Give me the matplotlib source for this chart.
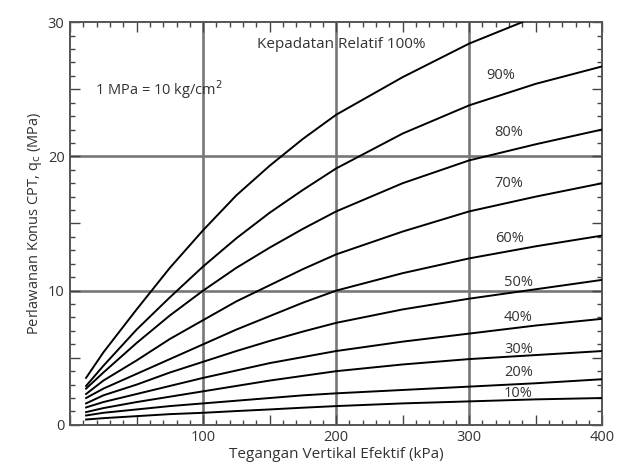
import matplotlib
matplotlib.use("Agg")
import matplotlib.pyplot as plt
from matplotlib.ticker import MultipleLocator, FuncFormatter

plt.rcParams['font.family'] = ['Open Sans', 'DejaVu Sans']

# effective vertical stress (kPa)
x_pts = [12, 25, 50, 75, 100, 125, 150, 175, 200, 250, 300, 350, 400]
x_100 = [12, 25, 50, 75, 100, 125, 150, 175, 200, 250, 300, 340]

# cone resistance qc (MPa) for each relative density
q_100 = [3.5, 5.4, 8.6, 11.7, 14.5, 17.1, 19.3, 21.3, 23.1, 25.9, 28.4, 30.0]
q_90 = [2.9, 4.4, 7.1, 9.5, 11.8, 13.9, 15.8, 17.5, 19.1, 21.7, 23.8, 25.4, 26.7]
q_80 = [2.7, 3.9, 6.1, 8.15, 10.0, 11.7, 13.2, 14.6, 15.9, 18.0, 19.7, 20.9, 22.0]
q_70 = [2.3, 3.3, 4.8, 6.4, 7.8, 9.2, 10.4, 11.6, 12.7, 14.4, 15.9, 17.0, 18.0]
q_60 = [2.0, 2.7, 3.8, 4.9, 6.0, 7.1, 8.1, 9.1, 10.0, 11.3, 12.4, 13.3, 14.1]
q_50 = [1.6, 2.2, 3.0, 3.9, 4.7, 5.5, 6.25, 6.95, 7.6, 8.6, 9.4, 10.1, 10.8]
q_40 = [1.3, 1.7, 2.3, 2.9, 3.5, 4.05, 4.6, 5.05, 5.5, 6.2, 6.8, 7.4, 7.9]
q_30 = [0.95, 1.25, 1.7, 2.1, 2.5, 2.9, 3.3, 3.65, 4.0, 4.5, 4.9, 5.2, 5.5]
q_20 = [0.7, 0.9, 1.15, 1.4, 1.6, 1.8, 2.0, 2.2, 2.35, 2.6, 2.85, 3.1, 3.4]
q_10 = [0.4, 0.5, 0.65, 0.8, 0.9, 1.03, 1.15, 1.28, 1.4, 1.6, 1.75, 1.9, 2.0]

lower_curves = [q_90, q_80, q_70, q_60, q_50, q_40, q_30, q_20, q_10]
labels = ['90%', '80%', '70%', '60%', '50%', '40%', '30%', '20%', '10%']
label_x = [324, 330, 330, 330, 337, 337, 337, 337, 337]
label_y = [26.0, 21.8, 18.0, 13.9, 10.6, 8.0, 5.6, 3.9, 2.35]

fig = plt.figure(figsize=(6.26, 4.70), dpi=100)
ax = fig.add_axes([0.112, 0.096, 0.85, 0.857])

# thick gray reference lines
for xv in [100, 200, 300]:
    ax.axvline(xv, color='#777777', lw=1.9, zorder=1)
for yv in [10, 20]:
    ax.axhline(yv, color='#777777', lw=1.9, zorder=1)

ax.plot(x_100, q_100, color='black', lw=1.4, zorder=3, solid_joinstyle='round')
for q in lower_curves:
    ax.plot(x_pts, q, color='black', lw=1.4, zorder=3, solid_joinstyle='round')

txt = '#333333'
ax.text(204, 28.3, 'Kepadatan Relatif 100%', ha='center', va='center', fontsize=11, color=txt)
for lab, lx, ly in zip(labels, label_x, label_y):
    ax.text(lx, ly, lab, ha='center', va='center', fontsize=10.5, color=txt)
ax.text(19, 25.0, r'1 MPa = 10 kg/cm$^2$', ha='left', va='center', fontsize=10.5, color=txt)

ax.set_xlim(0, 400)
ax.set_ylim(0, 30)

ax.xaxis.set_major_locator(MultipleLocator(50))
ax.xaxis.set_minor_locator(MultipleLocator(10))
ax.yaxis.set_major_locator(MultipleLocator(5))
ax.yaxis.set_minor_locator(MultipleLocator(1))
ax.xaxis.set_major_formatter(FuncFormatter(lambda v, p: f'{int(v)}' if v % 100 == 0 and v > 0 else ''))
ax.yaxis.set_major_formatter(FuncFormatter(lambda v, p: f'{int(v)}' if v % 10 == 0 else ''))

ax.tick_params(which='both', direction='in', top=True, right=True, color='#444444', width=1.0)
ax.tick_params(which='major', length=7, labelsize=10.5, labelcolor=txt, pad=4)
ax.tick_params(which='minor', length=3.5)

for s in ax.spines.values():
    s.set_color('#555555')
    s.set_linewidth(1.4)

ax.set_xlabel('Tegangan Vertikal Efektif (kPa)', fontsize=11, color=txt, labelpad=1)
ax.set_ylabel(r'Perlawanan Konus CPT, q$_\mathrm{c}$ (MPa)', fontsize=10.5, color=txt, labelpad=3)

fig.savefig('out.png', dpi=100)
